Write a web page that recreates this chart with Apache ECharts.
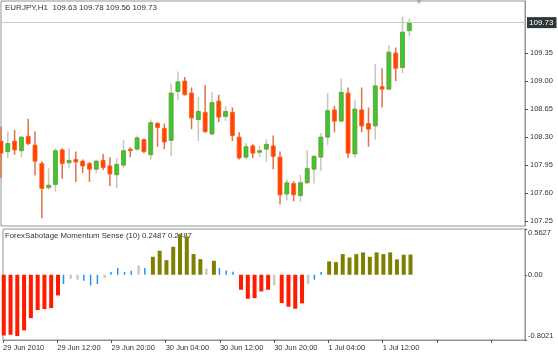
<!DOCTYPE html>
<html><head><meta charset="utf-8">
<script src="https://cdn.jsdelivr.net/npm/echarts@6/dist/echarts.min.js"></script>
<style>html,body{margin:0;padding:0;background:#fff}#c{width:558px;height:363px}</style>
</head><body><div id="c"></div>
<script>
// ---- data ----
const symbol = 'EURJPY,H1';
const lastOHLC = [109.63, 109.78, 109.56, 109.73];
const opens  = [108.25,108.12,108.25,108.13,108.31,108.20,107.97,107.67,107.71,108.14,107.98,108.02,108.00,107.97,107.90,108.01,107.94,107.83,107.95,108.15,108.15,108.27,108.08,108.47,108.41,108.26,108.87,109.00,108.85,108.52,108.61,108.34,108.75,108.56,108.61,108.30,108.05,108.19,108.12,108.15,108.19,108.05,107.59,107.72,107.57,107.73,107.90,108.05,108.30,108.64,108.50,108.85,108.09,108.64,108.47,108.44,108.93,108.90,109.35,109.17,109.63];
const highs  = [108.43,108.37,108.39,108.31,108.53,108.37,108.00,107.91,108.16,108.16,108.16,108.12,108.02,107.99,108.02,108.09,108.05,108.04,108.26,108.17,108.32,108.28,108.52,108.49,108.47,108.97,109.12,109.05,108.92,108.80,108.95,108.86,108.83,108.69,108.67,108.36,108.23,108.21,108.19,108.27,108.32,108.12,107.77,107.75,107.83,108.14,108.07,108.35,108.85,108.69,109.03,108.92,108.76,108.92,108.67,109.21,109.16,109.45,109.42,109.81,109.78];
const lows   = [107.79,108.04,108.08,108.05,108.20,107.82,107.29,107.64,107.62,107.78,107.92,107.74,107.85,107.74,107.85,107.89,107.69,107.66,107.91,108.05,108.13,108.10,108.02,108.18,108.15,108.06,108.76,108.82,108.40,108.25,108.35,108.32,108.49,108.50,108.25,108.02,108.02,108.04,108.05,107.99,107.90,107.46,107.51,107.50,107.49,107.71,107.72,107.88,108.20,108.36,108.49,108.04,108.05,108.36,108.18,108.27,108.67,108.88,109.00,109.10,109.56];
const closes = [108.10,108.22,108.14,108.30,108.22,108.00,107.66,107.70,108.13,107.97,108.01,107.99,107.94,107.90,108.00,107.92,107.84,107.96,108.13,108.13,108.29,108.12,108.48,108.42,108.24,108.85,108.99,108.83,108.54,108.62,108.37,108.73,108.55,108.62,108.32,108.04,108.18,108.10,108.13,108.21,108.06,107.58,107.73,107.58,107.73,107.91,108.06,108.30,108.63,108.50,108.86,108.10,108.65,108.44,108.40,108.94,108.90,109.36,109.16,109.61,109.73];
const indName = 'ForexSabotage Momentum Sense (10)';
const momentum = [-0.746,-0.738,-0.754,-0.684,-0.533,-0.434,-0.422,-0.410,-0.254,-0.115,-0.050,-0.060,-0.074,-0.131,-0.115,-0.040,0.033,0.082,0.033,0.049,0.115,0.082,0.221,0.295,0.180,0.344,0.500,0.470,0.254,0.193,0.074,0.172,0.082,0.053,0.037,-0.184,-0.295,-0.287,-0.205,-0.184,-0.131,-0.348,-0.393,-0.418,-0.352,-0.115,-0.061,0.033,0.164,0.156,0.254,0.213,0.254,0.275,0.221,0.275,0.254,0.275,0.189,0.246,0.2487];
// D = strong down, U = strong up, W = weak, F = flat
const momentumState = ['D','D','D','D','D','D','D','D','D','W','F','F','W','W','W','F','W','W','W','W','F','W','U','U','U','U','U','U','U','U','F','U','W','W','W','D','D','D','D','D','F','D','D','D','D','F','W','W','U','U','U','U','U','U','U','U','U','U','U','U','U'];
const priceTicks = [107.25,107.60,107.95,108.30,108.65,109.00,109.35];
const indTicks = [-0.8021, 0, 0.5627];
const timeLabels = ['29 Jun 2010','29 Jun 12:00','29 Jun 20:00','30 Jun 04:00','30 Jun 12:00','30 Jun 20:00','1 Jul 04:00','1 Jul 12:00'];
const barsPerLabel = 8;
const slotCount = 78;

// ---- build ----
const slots = Array.from({length: slotCount}, (_, i) => String(i));
const ohlc = opens.map((o, i) => [i, o, closes[i], lows[i], highs[i]]);
const FONT = 'Liberation Sans';
const TXT = '#333';
const BORDER = '#8e998e';
const stateStyle = {
  D: {color: '#ff1a00', width: 4},
  U: {color: '#808000', width: 4},
  W: {color: '#1e90ff', width: 1.5},
  F: {color: '#c8cbc4', width: 2.5}
};
const barSeries = Object.keys(stateStyle).map(s => ({
  type: 'bar', xAxisIndex: 1, yAxisIndex: 1, barWidth: stateStyle[s].width, barGap: '-100%',
  itemStyle: {color: stateStyle[s].color}, silent: true, animation: false,
  data: momentum.map((v, i) => momentumState[i] === s ? v : null)
}));
const lastMom = momentum[momentum.length - 1].toFixed(4);

const chart = echarts.init(document.getElementById('c'), null, {renderer: 'canvas'});
chart.setOption({
  animation: false,
  backgroundColor: '#fff',
  textStyle: {fontFamily: FONT},
  grid: [
    {left: 1, right: 33, top: 1, height: 225, show: true, borderColor: BORDER, borderWidth: 1},
    {left: 1, right: 33, top: 229, height: 111, show: true, borderColor: BORDER, borderWidth: 1}
  ],
  xAxis: [
    {type: 'category', gridIndex: 0, data: slots, boundaryGap: false,
     axisLine: {show: false, onZero: false}, axisTick: {show: false}, axisLabel: {show: false}, splitLine: {show: false}},
    {type: 'category', gridIndex: 1, data: slots, boundaryGap: false, position: 'bottom',
     axisLine: {show: true, onZero: false, lineStyle: {color: BORDER}},
     axisTick: {show: true, interval: barsPerLabel - 1, length: 3, lineStyle: {color: '#555'}},
     axisLabel: {show: true, interval: barsPerLabel - 1, align: 'left', margin: 4,
       fontSize: 7.5, color: TXT, fontFamily: FONT,
       formatter: (v, idx) => timeLabels[idx / barsPerLabel] || ''},
     splitLine: {show: false}}
  ],
  yAxis: [
    {type: 'value', gridIndex: 0, position: 'right', min: 107.19, max: 110.0, scale: true,
     splitLine: {show: false},
     axisLine: {show: true, lineStyle: {color: BORDER}},
     axisTick: {show: true, length: 3, customValues: priceTicks, lineStyle: {color: '#555'}},
     axisLabel: {customValues: priceTicks, margin: 5, fontSize: 7.5, color: TXT, fontFamily: FONT,
       formatter: v => v.toFixed(2)}},
    {type: 'value', gridIndex: 1, position: 'right', min: indTicks[0], max: indTicks[2],
     splitLine: {show: false},
     axisLine: {show: true, lineStyle: {color: BORDER}},
     axisTick: {show: true, length: 2, customValues: indTicks, lineStyle: {color: '#555'}},
     axisLabel: {customValues: indTicks, margin: 3, fontSize: 7.5, color: TXT, fontFamily: FONT,
       verticalAlignMaxLabel: 'top', verticalAlignMinLabel: 'bottom',
       formatter: v => v === 0 ? '0.00' : v.toFixed(4)}}
  ],
  series: [
    {type: 'custom', xAxisIndex: 0, yAxisIndex: 0, data: ohlc, silent: true,
     renderItem: (params, api) => {
       const x = api.value(0), o = api.value(1), c = api.value(2), l = api.value(3), h = api.value(4);
       const pO = api.coord([x, o]), pC = api.coord([x, c]), pL = api.coord([x, l]), pH = api.coord([x, h]);
       const bull = c >= o;
       const top = Math.min(pO[1], pC[1]);
       const hgt = Math.max(1.5, Math.abs(pO[1] - pC[1]));
       return {type: 'group', children: [
         {type: 'line', shape: {x1: pH[0], y1: pH[1], x2: pL[0], y2: pL[1]},
          style: {stroke: bull ? '#c3c8b8' : '#e0704a', lineWidth: 1.5}},
         {type: 'rect', shape: {x: pO[0] - 2, y: top, width: 4, height: hgt},
          style: {fill: bull ? '#32cd32' : '#ff4500', stroke: bull ? '#7d8a2c' : '#ff5a1a', lineWidth: 0.8}}
       ]};
     }},
    {type: 'line', xAxisIndex: 0, yAxisIndex: 0, data: [], symbol: 'none', silent: true,
     markLine: {silent: true, symbol: ['none', 'none'],
       lineStyle: {color: '#c4cac4', width: 1, type: 'solid'},
       label: {show: true, position: 'end', distance: 2, formatter: lastOHLC[3].toFixed(2),
         color: '#fff', backgroundColor: '#2c3838', padding: [2, 3, 1, 2], fontSize: 8, fontFamily: FONT},
       data: [{yAxis: lastOHLC[3]}]}},
    ...barSeries
  ],
  graphic: [
    {type: 'text', left: 5, top: 4, silent: true,
     style: {text: symbol + '  ' + lastOHLC.map(v => v.toFixed(2)).join(' '), fill: TXT, font: '8px "' + FONT + '"'}},
    {type: 'text', left: 5, top: 232, silent: true,
     style: {text: indName + ' ' + lastMom + ' ' + lastMom, fill: TXT, font: '7.8px "' + FONT + '"'}},
    {type: 'polygon', silent: true, shape: {points: [[416.5, 0], [421.5, 0], [419, 4]]}, style: {fill: '#a6ada6'}}
  ]
});
</script></body></html>
